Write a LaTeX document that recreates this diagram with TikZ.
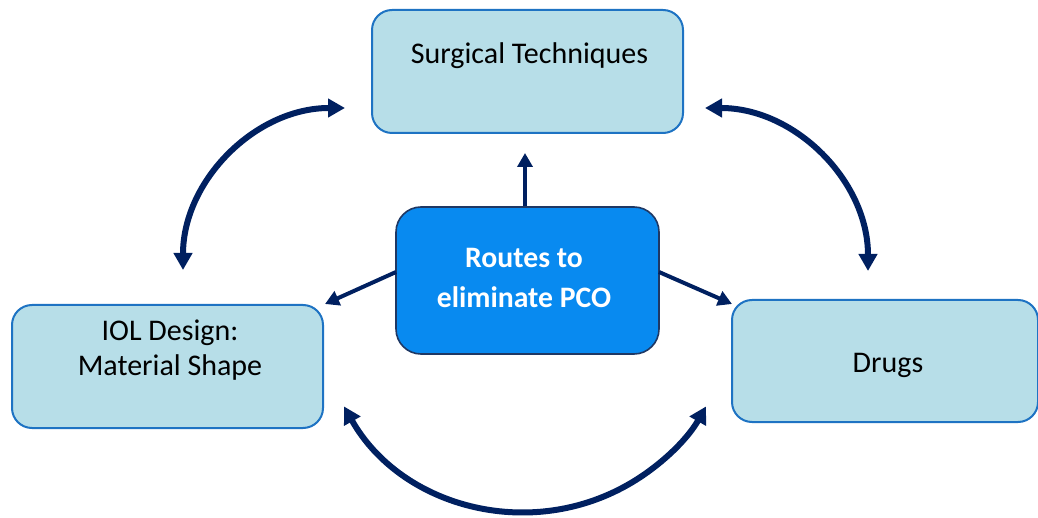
\documentclass[tikz,border=0pt]{standalone}
\usepackage{fontspec}
\setmainfont{Carlito}
\usetikzlibrary{arrows.meta}
\definecolor{lightfill}{RGB}{183,222,232}
\definecolor{lightdraw}{RGB}{30,115,195}
\definecolor{routefill}{RGB}{8,138,240}
\definecolor{routedraw}{RGB}{31,56,100}
\definecolor{navy}{RGB}{0,32,96}
\tikzset{
  lbox/.style={draw=lightdraw, fill=lightfill, line width=2pt, rounded corners=20pt, inner sep=0pt, rectangle},
  rbox/.style={draw=routedraw, fill=routefill, line width=1.6pt, rounded corners=25pt, inner sep=0pt, rectangle},
  ltext/.style={font=\fontsize{30}{35}\selectfont, align=center, text=black, inner sep=0pt},
  rtext/.style={font=\fontsize{29.7}{40}\selectfont\bfseries, align=center, text=white, inner sep=0pt},
  sarrow/.style={draw=navy, line width=4pt, -{Triangle[length=14pt,width=15pt]}},
  carrow/.style={draw=navy, line width=6pt, {Triangle[length=17pt,width=18pt]}-{Triangle[length=17pt,width=18pt]}},
}
\begin{document}
\begin{tikzpicture}[x=1pt,y=1pt]
\useasboundingbox (0,0) rectangle (1038,517);
% boxes
\node[lbox, minimum width=311pt, minimum height=123pt] (surg) at (527.5,445.5) {};
\node[ltext] (surgT) at (529.5,461) {Surgical Techniques};
\node[rbox, minimum width=263pt, minimum height=147pt] (routes) at (527.5,236.5) {};
\node[rtext] (routesT) at (524,239) {Routes to\\eliminate PCO};
\node[lbox, minimum width=311pt, minimum height=123pt] (iol) at (167.5,150.5) {};
\node[ltext] (iolT) at (170,167) {IOL Design:\\Material Shape};
\node[lbox, minimum width=306pt, minimum height=122pt] (drugs) at (885,156) {};
\node[ltext] (drugsT) at (888,152) {Drugs};
% straight arrows
\coordinate (upTip) at (525,364);
\coordinate (leftTip) at (325,213);
\coordinate (rightTip) at (732,213);
\coordinate (leftStart) at (396,245);
\coordinate (rightStart) at (659,245);
\draw[sarrow] (routes.north -| upTip) -- (upTip);
\draw[sarrow] (leftStart) -- (leftTip);
\draw[sarrow] (rightStart) -- (rightTip);
% curved double arrows
\coordinate (tlA) at (183,247);
\coordinate (trA) at (705,409);
\coordinate (btA) at (344,110.6);
\draw[carrow] (tlA) arc[start angle=180, end angle=90, radius=162];
\draw[carrow] (trA) arc[start angle=90, end angle=0, radius=163];
\draw[carrow] (btA) arc[start angle=209.5, end angle=330.5, radius=208];
\end{tikzpicture}
\end{document}
